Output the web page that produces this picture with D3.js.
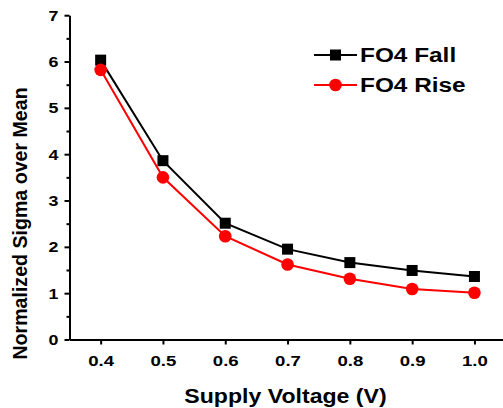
<!DOCTYPE html>
<html>
<head>
<meta charset="utf-8">
<script src="https://cdn.jsdelivr.net/npm/d3@7/dist/d3.min.js"></script>
<style>
  html, body { margin: 0; padding: 0; background: #fff; }
  svg { display: block; }
  text { font-family: "Liberation Sans", Arial, sans-serif; font-weight: bold; fill: #000; }
</style>
</head>
<body>
<svg id="chart" width="503" height="408"></svg>
<script>
const voltages = [0.4, 0.5, 0.6, 0.7, 0.8, 0.9, 1.0];
const fo4Fall = [6.03, 3.86, 2.51, 1.95, 1.66, 1.49, 1.36];
const fo4Rise = [5.82, 3.50, 2.23, 1.62, 1.31, 1.09, 1.01];
const xTicks = [0.4, 0.5, 0.6, 0.7, 0.8, 0.9, 1.0];
const yTicks = [0, 1, 2, 3, 4, 5, 6, 7];
const yMinorTicks = [0.5, 1.5, 2.5, 3.5, 4.5, 5.5, 6.5];
const seriesNames = ["FO4 Fall", "FO4 Rise"];
const xTitle = "Supply Voltage (V)";
const yTitle = "Normalized Sigma over Mean";

const svg = d3.select("#chart");
const x = d3.scaleLinear().domain([0.35, 1.05]).range([69.5, 505.6]);
const y = d3.scaleLinear().domain([0, 7]).range([339.5, 15.2]);

function stretch(sel, k) {
  sel.each(function () {
    const w = this.getComputedTextLength();
    d3.select(this).attr("textLength", w * k).attr("lengthAdjust", "spacingAndGlyphs");
  });
}

// Y minor ticks
svg.append("g")
  .attr("transform", `translate(${x(0.35)},0)`)
  .call(d3.axisLeft(y).tickValues(yMinorTicks).tickSize(3).tickFormat(""))
  .call(g => g.select(".domain").remove())
  .call(g => g.selectAll("line").attr("stroke", "#000").attr("stroke-width", 2));

// Y axis
const yAxis = svg.append("g")
  .attr("transform", `translate(${x(0.35)},0)`)
  .call(d3.axisLeft(y).tickValues(yTicks).tickSize(5).tickSizeOuter(0).tickPadding(6).tickFormat(d3.format("d")));
yAxis.select(".domain").attr("stroke", "#000").attr("stroke-width", 2);
yAxis.selectAll("line").attr("stroke", "#000").attr("stroke-width", 2);
yAxis.selectAll("text").style("font-size", "15.5px").attr("fill", "#000");
stretch(yAxis.selectAll("text"), 1.15);

// X axis
const xAxis = svg.append("g")
  .attr("transform", `translate(0,${y(0)})`)
  .call(d3.axisBottom(x).tickValues(xTicks).tickSize(5).tickSizeOuter(0).tickPadding(10).tickFormat(d3.format(".1f")));
xAxis.select(".domain").attr("stroke", "#000").attr("stroke-width", 2);
xAxis.selectAll("line").attr("stroke", "#000").attr("stroke-width", 2);
xAxis.selectAll("text").style("font-size", "15.5px").attr("fill", "#000");
stretch(xAxis.selectAll("text"), 1.2);

// Axis titles
const xt = svg.append("text")
  .attr("x", 285.5).attr("y", 403)
  .attr("text-anchor", "middle")
  .style("font-size", "21px")
  .text(xTitle);
stretch(xt, 1.1);

svg.append("text")
  .attr("transform", "translate(27,223.5) rotate(-90)")
  .attr("text-anchor", "middle")
  .style("font-size", "19.6px")
  .text(yTitle);

// Lines
const line = d3.line().x((d, i) => x(voltages[i])).y(d => y(d));
svg.append("path").datum(fo4Fall)
  .attr("d", line).attr("fill", "none").attr("stroke", "#000").attr("stroke-width", 2);
svg.append("path").datum(fo4Rise)
  .attr("d", line).attr("fill", "none").attr("stroke", "#ff0000").attr("stroke-width", 2);

// Markers
const sq = 11;
svg.append("g").selectAll("rect").data(fo4Fall).join("rect")
  .attr("x", (d, i) => x(voltages[i]) - sq / 2)
  .attr("y", d => y(d) - sq / 2)
  .attr("width", sq).attr("height", sq)
  .attr("fill", "#000");
svg.append("g").selectAll("circle").data(fo4Rise).join("circle")
  .attr("cx", (d, i) => x(voltages[i]))
  .attr("cy", d => y(d))
  .attr("r", 6.3)
  .attr("fill", "#ff0000");

// Legend
const legend = svg.append("g");
const rows = [
  { name: seriesNames[0], color: "#000", shape: "square", cy: 55 },
  { name: seriesNames[1], color: "#ff0000", shape: "circle", cy: 85 }
];
rows.forEach(r => {
  legend.append("line")
    .attr("x1", 314).attr("x2", 357).attr("y1", r.cy).attr("y2", r.cy)
    .attr("stroke", r.color).attr("stroke-width", 2);
  if (r.shape === "square") {
    legend.append("rect").attr("x", 335.5 - 5.5).attr("y", r.cy - 5.5)
      .attr("width", 11).attr("height", 11).attr("fill", r.color);
  } else {
    legend.append("circle").attr("cx", 335.5).attr("cy", r.cy).attr("r", 6.3).attr("fill", r.color);
  }
  const t = legend.append("text")
    .attr("x", 360).attr("y", r.cy + 7)
    .style("font-size", "19.5px")
    .text(r.name);
  stretch(t, 1.25);
});
</script>
</body>
</html>
